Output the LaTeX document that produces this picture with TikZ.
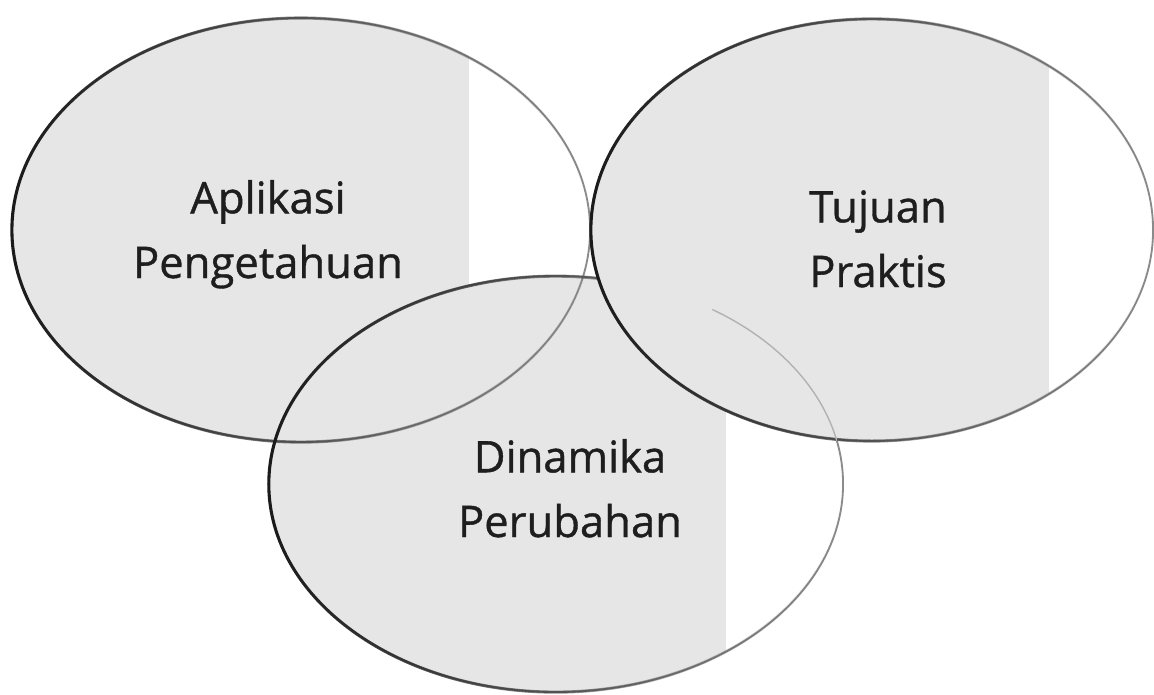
\documentclass[tikz,border=0pt]{standalone}
\usepackage{fontspec}
\setmainfont{Open Sans}[FakeBold=0.9]
\usetikzlibrary{shapes.geometric,calc,fadings}

\definecolor{veil}{HTML}{E6E6E6}
\definecolor{rimdark}{HTML}{1A1A1A}
\definecolor{rimlight}{HTML}{8C8C8C}
\definecolor{ink}{HTML}{1E1E1E}

\tikzfading[name=rimfade, left color=transparent!0, middle color=transparent!15, right color=transparent!100]

\tikzset{
  blob/.style={shape=ellipse, inner sep=0pt, outer sep=0pt,
    path picture={\fill[veil] (path picture bounding box.south west) rectangle ([xshift=#1]path picture bounding box.north);}},
  word/.style={font=\fontsize{31}{46}\selectfont, text=ink, align=center, anchor=base},
}
\newcommand\rimline[1]{%
  \draw[rimlight, line width=1.3pt] let \p1=(#1.east), \p2=(#1.north), \p3=(#1.center) in (\p3) ellipse [x radius={\x1-\x3}, y radius={\y2-\y3}];
  \draw[rimdark, line width=2.2pt, path fading=rimfade] let \p1=(#1.east), \p2=(#1.north), \p3=(#1.center) in (\p3) ellipse [x radius={\x1-\x3}, y radius={\y2-\y3}];
}

\begin{document}
\begin{tikzpicture}[x=0.025cm, y=-0.025cm]
\useasboundingbox (0,0) rectangle (1154,695);
	\node[blob=4.2cm, minimum width=14.45cm, minimum height=10.6cm] (apl) at (301,230) {};
	\node[blob=4.25cm, minimum width=14.35cm, minimum height=10.4cm] (din) at (556,484) {};
	\rimline{apl}
	\rimline{din}
	\node[blob=4.425cm, minimum width=14.05cm, minimum height=10.55cm] (tuj) at (872,230) {};
	\rimline{tuj}
	% bit of din that shows through tuj
	\draw[gray!60, line width=1pt] (din.center) ++(57:7.175cm and 5.2cm) arc[start angle=57, end angle=12, x radius=7.175cm, y radius=5.2cm];
	\node[word] (aplTxt) at (268,278) {Aplikasi\\Pengetahuan};
	\node[word] (tujTxt) at (878,287) {Tujuan\\Praktis};
	\node[word] (dinTxt) at (570,537) {Dinamika\\Perubahan};
\end{tikzpicture}
\end{document}
